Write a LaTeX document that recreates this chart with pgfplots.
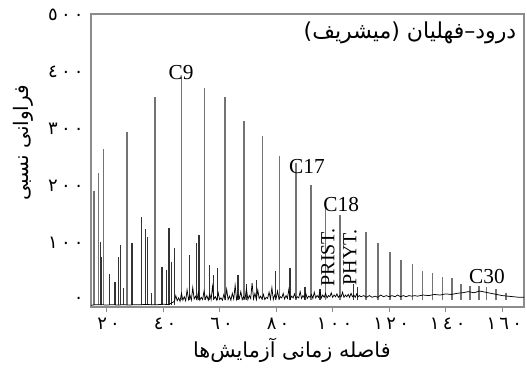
\documentclass[border=0pt]{standalone}
\usepackage{fontspec}
\usepackage{pgfplots}
\pgfplotsset{compat=1.18}
\setmainfont{Liberation Serif}
\newfontfamily\arabicfont[Script=Arabic]{DejaVu Sans}
\newfontfamily\digitfont[Script=Arabic, LetterSpace=18]{DejaVu Sans}
\TeXXeTstate=1
\begin{document}
\begin{tikzpicture}
\begin{axis}[
  at={(0,0)}, anchor=south west,
  scale only axis, width=324.75pt, height=219.75pt,
  xmin=14.5, xmax=167.7, ymin=-12, ymax=502,
  axis line style={draw=black!45, line width=1.1pt},
  unbounded coords=jump,
  clip=true,
  xtick={20,40,60,80,100,120,140,160},
  xticklabels={٢٠,٤٠,٦٠,٨٠,١٠٠,١٢٠,١٤٠,١٦٠},
  ytick={0,100,200,300,400,500},
  yticklabels={٠,١٠٠,٢٠٠,٣٠٠,٤٠٠,٥٠٠},
  tick label style={font=\fontsize{13.5}{13.5}\digitfont},
  xtick pos=bottom, ytick pos=left,
  xtick align=outside,
  x tick style={draw=black!45, line width=0.6pt},
  major tick length=4pt,
  y tick style={draw=none},
  yticklabel style={xshift=-2pt},
  xticklabel style={yshift=-1pt, xshift=1.5pt},
  xlabel={\arabicfont\beginR فاصله زمانی آزمایش‌ها\endR},
  xlabel style={font=\fontsize{15.5}{15.5}\selectfont, at={(axis description cs:0.464,-0.147)}, anchor=center},
  ylabel={\arabicfont\beginR فراوانی نسبی\endR},
  ylabel style={font=\fontsize{15}{15}\selectfont, at={(axis description cs:-0.157,0.56)}, anchor=center},
]
% main n-alkane peaks
\addplot[draw=black!55, line width=1.1pt] coordinates {
(15.6,-8) (15.6,191) (15.6,nan)
(17.2,-8) (17.2,223) (17.2,nan)
(19.0,-8) (19.0,266) (19.0,nan)
(27.2,-8) (27.2,295) (27.2,nan)
(37.1,-8) (37.1,357) (37.1,nan)
(46.5,0) (46.5,392) (46.5,nan)
(54.6,0) (54.6,373) (54.6,nan)
(61.9,0) (61.9,357) (61.9,nan)
(68.7,0) (68.7,314) (68.7,nan)
(75.1,0) (75.1,288) (75.1,nan)
(81.1,0) (81.1,253) (81.1,nan)
(87.0,0) (87.0,240) (87.0,nan)
(92.3,0) (92.3,202) (92.3,nan)
(97.5,0) (97.5,167) (97.5,nan)
(102.6,0) (102.6,149) (102.6,nan)
(111.8,0) (111.8,119) (111.8,nan)
(116.0,0) (116.0,100) (116.0,nan)
(120.3,0) (120.3,84) (120.3,nan)
(124.2,0) (124.2,70) (124.2,nan)
(128.2,0) (128.2,63) (128.2,nan)
(131.8,0) (131.8,51) (131.8,nan)
(135.4,0) (135.4,48) (135.4,nan)
(138.9,0) (138.9,40) (138.9,nan)
(142.2,0) (142.2,39) (142.2,nan)
(145.4,0) (145.4,28) (145.4,nan)
(148.6,0) (148.6,25) (148.6,nan)
(151.8,0) (151.8,25) (151.8,nan)
(154.5,0) (154.5,23) (154.5,nan)
(157.8,0) (157.8,19) (157.8,nan)
(161.3,0) (161.3,12) (161.3,nan)
};
% smaller peaks
\addplot[draw=black!80, line width=0.85pt] coordinates {
(17.9,-8) (17.9,102) (17.9,nan)
(18.3,-8) (18.3,76) (18.3,nan)
(20.9,-8) (20.9,46) (20.9,nan)
(23.0,-8) (23.0,32) (23.0,nan)
(24.1,-8) (24.1,76) (24.1,nan)
(25.0,-8) (25.0,96) (25.0,nan)
(25.9,-8) (25.9,21) (25.9,nan)
(29.0,-8) (29.0,100) (29.0,nan)
(32.4,-8) (32.4,146) (32.4,nan)
(33.9,-8) (33.9,125) (33.9,nan)
(34.6,-8) (34.6,111) (34.6,nan)
(36.0,-8) (36.0,12) (36.0,nan)
(39.6,-8) (39.6,58) (39.6,nan)
(41.3,-8) (41.3,53) (41.3,nan)
(42.1,-8) (42.1,127) (42.1,nan)
(43.1,-8) (43.1,67) (43.1,nan)
(43.9,-8) (43.9,91) (43.9,nan)
(49.2,0) (49.2,79) (49.2,nan)
(51.7,0) (51.7,101) (51.7,nan)
(52.7,0) (52.7,114) (52.7,nan)
(56.4,0) (56.4,61) (56.4,nan)
(57.7,0) (57.7,44) (57.7,nan)
(59.2,0) (59.2,56) (59.2,nan)
(66.5,0) (66.5,44) (66.5,nan)
(69.6,0) (69.6,29) (69.6,nan)
(73.1,0) (73.1,35) (73.1,nan)
(79.8,0) (79.8,52) (79.8,nan)
(84.9,0) (84.9,56) (84.9,nan)
(90.2,0) (90.2,23) (90.2,nan)
(95.5,0) (95.5,20) (95.5,nan)
(107.5,0) (107.5,29) (107.5,nan)
(108.7,0) (108.7,23) (108.7,nan)
};
% baseline trace
\addplot[draw=black, line width=0.55pt] coordinates {
(14.5,-9) (16,-8) (18,-8) (20,-8.5) (22,-8) (24,-8.5) (26,-8) (28,-8.5) (30,-8) (32,-8) (34,-7.5) (36,-8) (38,-8) (40,-7) (42,-8) (43,-5)
(44,-2) (44.5,8) (45,-1) (45.5,4) (46,-2) (46.5,12) (47,0) (47.5,6) (48,-1) (48.5,18) (49,1) (49.5,9) (50,0) (50.5,22) (51,2) (51.5,7) (52,1) (52.5,14) (53,0) (53.5,5) (54,1) (54.5,16) (55,2) (55.5,8) (56,0) (56.5,11) (57,1) (57.5,24) (58,2) (58.5,6) (59,0) (59.5,13) (60,1) (60.5,4) (61,0) (61.5,10) (62,2) (62.5,19) (63,1) (63.5,7) (64,0) (64.5,12) (65,2) (65.5,26) (66,1) (66.5,9) (67,3) (67.5,15) (68,1) (68.5,6) (69,2) (69.5,20) (70,1) (70.5,8) (71,3) (71.5,30) (72,2) (72.5,12) (73,1) (73.5,18) (74,3) (74.5,7) (75,2) (75.5,10) (76,1) (76.5,5) (77,3) (77.5,14) (78,2) (78.5,22) (79,1) (79.5,9) (80,3) (80.5,16) (81,2) (81.5,6) (82,4) (82.5,12) (83,2) (83.5,8) (84,3) (84.5,19) (85,2) (85.5,7) (86,4) (86.5,11) (87,3) (87.5,6) (88,4) (88.5,15) (89,3) (89.5,8) (90,4) (90.5,12) (91,3) (91.5,7) (92,5) (92.5,10) (93,3) (93.5,14) (94,4) (94.5,8) (95,5) (95.5,16) (96,4) (96.5,9) (97,5) (97.5,12) (98,4) (98.5,8) (99,6) (99.5,13) (100,5) (100.5,9) (101,6) (101.5,11) (102,5) (102.5,8) (103,6) (103.5,14) (104,5) (104.5,9) (105,6) (105.5,10) (106,5) (106.5,12) (107,6) (107.5,9) (108,5) (108.5,11) (109,6) (109.5,8) (110,6)
(111,8) (112,5) (113,8) (114,5) (115,7) (116,5) (117,9) (118,6) (119,8) (120,6) (121,8) (122,6) (123,9) (124,6) (125,8) (126,6) (127,8) (128,7) (129,8) (130,7) (132,9) (134,8) (136,10) (138,9) (140,11) (142,10) (144,12) (146,13) (148,15) (150,13) (152,16) (154,14) (156,12) (158,10) (160,8) (162,7) (164,6) (166,5) (167.7,5)
};
\node[font=\fontsize{16}{16}\selectfont] at (axis cs:46.4,400) {C9};
\node[font=\fontsize{16}{16}\selectfont] at (axis cs:90.9,235) {C17};
\node[font=\fontsize{16}{16}\selectfont] at (axis cs:103,167) {C18};
\node[font=\fontsize{16}{16}\selectfont] at (axis cs:154.6,42) {C30};
\node[font=\fontsize{15}{15}\selectfont, rotate=90] at (axis cs:98.3,75) {PRIST.};
\node[font=\fontsize{15}{15}\selectfont, rotate=90] at (axis cs:106.1,75) {PHYT.};
\node[font=\fontsize{16.5}{16.5}\arabicfont, anchor=east] at (axis description cs:0.993,0.935) {\beginR درود–فهلیان (میشریف)\endR};
\end{axis}
\pgfresetboundingbox
\path[use as bounding box] (-68.25pt,-53.25pt) rectangle (327pt,230.25pt);
\end{tikzpicture}
\end{document}
